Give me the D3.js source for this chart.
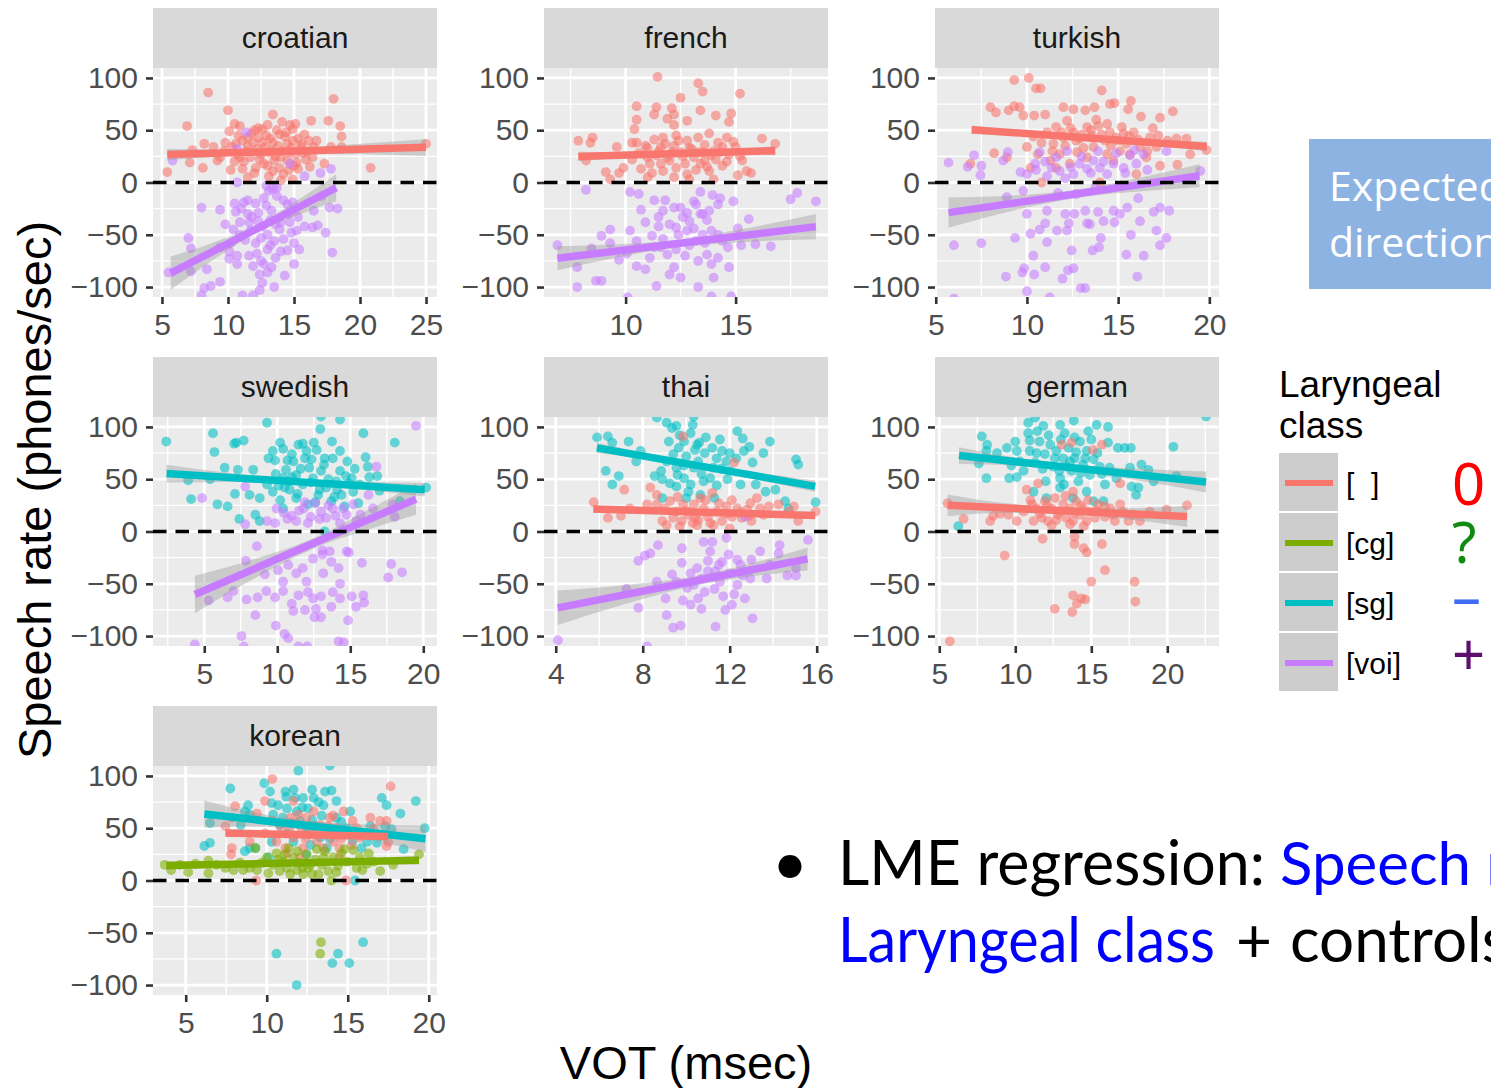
<!DOCTYPE html>
<html><head><meta charset="utf-8">
<script src="https://cdn.jsdelivr.net/npm/d3@7"></script>
<style>body{margin:0;background:#fff;overflow:hidden}svg{display:block}</style>
</head><body><svg id="c" width="1491" height="1088"></svg>
<script>
// ---------------- DATA ----------------
const languages = ["croatian","french","turkish","swedish","thai","german","korean"];
const classes = ["none","cg","sg","voi"];
const classLabels = ["[\u00a0\u00a0]","[cg]","[sg]","[voi]"];
const classColors = ["#F8766D","#7CAE00","#00BFC4","#C77CFF"];
const expectedSigns = ["0","?","\u2013","+"];
const expectedColors = ["#ff0000","#118a11","#3f6cf2","#5c0f6e"];
const xDomains = [[4.32,25.83],[6.29,19.2],[4.96,20.53],[1.49,20.94],[3.46,16.52],[4.72,23.4],[2.98,20.51]];
const xTicks = [[5,10,15,20,25],[10,15],[5,10,15,20],[5,10,15,20],[4,8,12,16],[5,10,15,20],[5,10,15,20]];
const xMinor = [[7.5,12.5,17.5,22.5],[7.5,12.5,17.5],[7.5,12.5,17.5],[2.5,7.5,12.5,17.5],[6,10,14],[7.5,12.5,17.5,22.5],[7.5,12.5,17.5]];
const yTicks = [-100,-50,0,50,100];
const yMinor = [-75,-25,25,75];
const yDomain = [-109.5,109.5];

const croatianNone = [[8.5,86],[18,80],[10,69],[13.4,65],[6.9,54],[10.5,56],[10.9,54],[8.2,37],[17.6,59],[18.5,54],[16.3,59],[18.6,44],[18.6,34],[17.8,34],[17.3,18],[20.8,14],[25,37],[5.4,10],[7.1,19],[7.3,31],[8.1,14],[8.9,34],[9.8,38],[10.1,49],[10.2,12],[10.6,37],[10.9,24],[11.5,43],[12,50],[12.3,43],[12.6,51],[12.8,34],[13.2,42],[13.7,50],[14,24],[14.4,48],[14.6,29],[14.9,40],[15.1,56],[15.5,34],[15.8,46],[16.1,40],[16.4,24],[16.5,34],[11.7,24],[12.1,14],[12.5,27],[13,16],[13.5,21],[13.9,14],[14.2,8],[14.9,3],[15.3,13],[15,16],[11.1,13],[9.4,24],[9.2,21],[11.4,30],[12.6,38],[13.4,38],[14.5,37],[15.3,42],[16,30],[11.5,35],[12.2,32],[13.1,29],[13.6,25],[14.1,30],[14.5,21],[15.1,27],[10.3,34],[10.7,27],[11.8,47],[13,55],[14.1,58],[14.9,51],[15.6,37],[13.4,11],[14,2],[10.8,45],[11.2,20],[11.9,38],[12.4,22],[12.9,45],[13.3,30],[13.8,35],[14.3,44],[14.8,33],[15.2,19],[15.7,28],[16.2,15],[12,9],[13.1,6],[11.5,5],[10.5,20],[9.7,30],[12.7,18],[14.6,12],[15.9,22],[16.7,40],[13.9,46],[11.1,40],[12.3,52],[14.7,55]];
const croatianVoi = [[5.8,21],[10.7,32],[11.4,48],[14.7,18],[15.8,6],[17,9],[17.8,13],[10.7,0],[8,-24],[9.4,-26],[10.5,-20],[10.6,-28],[11.2,-19],[11.5,-17],[11.5,-30],[12.1,-20],[12.3,-29],[12.7,-15],[12.9,-3],[13.1,-8],[13.4,-6],[13.7,-5],[13.7,-13],[14.2,-17],[14.5,-21],[14.9,-19],[15.3,-33],[16.5,-27],[17.1,-13],[17.7,-24],[18.3,-25],[10.9,-38],[11.6,-38],[12.3,-37],[13.2,-36],[14,-38],[14.7,-38],[15.8,-42],[16.4,-43],[16.8,-41],[17.4,-48],[10.4,-45],[10.9,-50],[11.7,-46],[12.5,-53],[13,-50],[13.5,-56],[14.2,-54],[15,-58],[15.4,-64],[7,-53],[7.2,-63],[9.4,-62],[10.1,-66],[10.7,-70],[11.6,-70],[12.2,-68],[13,-64],[13.6,-72],[14.5,-65],[17.9,-67],[8.4,-83],[10.1,-73],[10.7,-78],[12.7,-78],[13.3,-81],[15,-78],[7.2,-85],[5.5,-86],[8.2,-101],[8.7,-99],[9.4,-95],[12.4,-88],[12.6,-96],[13,-86],[13.5,-100],[14.3,-89],[12.4,-103],[11.1,-108],[8,-108],[11.9,-108],[11,-25],[11.8,-33],[12.6,-42],[13.3,-27],[13.9,-45],[14.6,-30],[12.1,-58],[13.2,-60],[14,-66],[11.3,-55],[10.2,-58],[12.9,-22],[13.6,-40],[15.2,-46],[11.9,-80],[12.5,-75],[9.8,-40],[14.8,-48]];

const frenchNone = [[11.45,101],[13.3,95],[13.5,87],[12.5,81],[15.2,85],[10.5,73],[11.4,72],[12.1,71],[13.4,69],[11.3,65],[11.9,61],[10.5,60],[12.2,65],[14.1,64],[14.8,66],[14.7,58],[12.2,55],[12.8,59],[10.4,51],[7.85,40],[8.4,38],[8.5,43],[9.6,34],[10.3,38],[10.5,38],[11,33],[11.3,41],[11.7,43],[12.3,45],[12.8,40],[13.3,43],[13.8,47],[14.2,38],[14.6,43],[15,34],[16.2,42],[16.8,37],[8.2,21],[9.1,10],[9.7,9],[9.9,14],[10.3,22],[10.7,13],[11.1,18],[11.4,26],[11.7,11],[12,21],[12.3,14],[12.5,29],[12.8,8],[13.1,24],[13.4,18],[13.5,29],[13.8,11],[14.1,22],[14.4,16],[14.7,27],[15.1,7],[15.5,11],[15.7,9],[15.3,21],[9.3,3],[11,5],[12.2,5],[14,3],[11.6,34],[12.1,29],[13,32],[13.3,29],[14,30],[14.4,34],[11.9,24],[12.7,18],[13.6,21],[10.6,28],[11,24],[11.5,30],[11.8,37],[12.2,35],[12.6,25],[12.9,33],[13.2,12],[13.6,36],[13.9,26],[14.3,29],[14.6,20],[15.2,25],[12.4,40],[11.2,9],[12.9,3],[13.7,15],[10.9,35],[11.6,18],[14.9,39]];
const frenchVoi = [[8.2,-7],[10.2,-9],[10.6,-11],[11.3,-17],[11.8,-17],[10.7,-26],[12.2,-24],[13.2,-21],[13.4,-9],[13.95,-12],[14.3,-15],[14.9,-18],[17.5,-16],[17.8,-10],[18.65,-18],[12.8,-29],[13.4,-30],[13.8,-27],[14.2,-21],[15.6,-35],[6.9,-60],[7.8,-81],[7.8,-100],[8.65,-94],[8.9,-94],[8.45,-63],[8.9,-51],[9.3,-58],[9.3,-45],[9.7,-74],[10.05,-68],[10.5,-80],[10.9,-83],[10.9,-38],[11.2,-51],[11.5,-33],[11.5,-42],[11.7,-54],[11.9,-69],[12,-88],[12.2,-81],[12.3,-64],[12.5,-91],[12.8,-46],[12.9,-37],[13.2,-56],[13.3,-75],[13.3,-100],[13.5,-50],[13.7,-69],[13.9,-46],[14,-91],[14.2,-72],[14.4,-56],[14.7,-81],[14.8,-109],[13.9,-109],[14.65,-62],[15.25,-60],[15.9,-59],[16.6,-61],[11.4,-99],[11.7,-27],[12.6,-33],[12.3,-43],[11.3,-62],[10.5,-56],[15.1,-44],[13.5,-30],[13.1,-18],[10.1,-110],[12.4,-50],[12.9,-60],[13.6,-58],[12,-40],[13.1,-44],[11.6,-62],[13.9,-78],[12.7,-70],[11.1,-72],[14.2,-50],[10.2,-46],[12.5,-24],[13.7,-36]];

const turkishNone = [[9.3,98],[10.1,100],[10.5,90],[10.75,90],[14.1,88],[8,72],[8.3,67],[9,69],[9.3,73],[9.6,72],[9.8,64],[10.4,64],[11,65],[12,72],[12.55,70],[13.2,69],[13.7,72],[14.55,75],[14.8,76],[15.7,78],[15.55,70],[16.25,63],[17.3,62],[18,68],[6.9,18],[8.2,28],[8.9,24],[10,34],[10.35,44],[10.6,27],[11.1,48],[11.45,37],[11.6,53],[12,43],[12.2,59],[12.55,48],[12.9,42],[13.3,53],[13.55,45],[13.9,54],[14.3,40],[14.55,48],[14.9,43],[15.2,53],[15.45,37],[15.85,48],[16.2,34],[16.75,43],[17.1,34],[17.7,40],[18.2,42],[18.75,42],[18.95,27],[19.85,31],[18.25,17],[17.3,16],[16,8],[14,0],[10.8,0],[11.3,21],[11.8,27],[12.35,18],[12.75,29],[13.3,24],[13.65,34],[14.4,27],[14.75,21],[15.1,30],[15.65,27],[16.55,24],[10.2,14],[11.6,14],[10.8,38],[11.4,30],[12.1,35],[12.7,40],[13.1,33],[13.5,50],[14.1,46],[14.6,35],[15,40],[15.6,44],[16.1,41],[16.6,30],[12.4,52],[13.8,60],[14.4,56],[11.9,48],[13,46],[15.3,47],[17.2,45],[16.9,52]];
const turkishVoi = [[5.7,19],[6.75,15],[7.1,26],[7.5,16],[7.45,7],[8.7,21],[8.95,29],[9.65,10],[10,8],[10.45,18],[10.7,29],[11.1,6],[11.35,14],[11.8,11],[12.2,30],[12.55,8],[12.9,18],[13.3,13],[13.65,21],[14,14],[14.4,8],[14.75,18],[15.3,14],[15.65,26],[16,18],[16.4,27],[17.65,30],[19.5,11],[8.9,-14],[9.8,-8],[10,-30],[11.1,-27],[11.7,-10],[12.1,-30],[12.6,-30],[12.7,-11],[13.2,-27],[13.75,-5],[13.9,-28],[14.2,-37],[14.75,-27],[14.8,-38],[15.1,-30],[15.5,-24],[16.1,-15],[16.2,-37],[16.95,-28],[17.3,-24],[17.8,-27],[6,-60],[7.5,-58],[9.35,-53],[10.2,-49],[10.7,-45],[11,-39],[11.1,-57],[11.65,-46],[12.2,-46],[12.3,-39],[12.45,-65],[13.3,-39],[13.45,-40],[13.6,-65],[13.95,-62],[14.05,-53],[15.7,-50],[15.45,-69],[16.4,-70],[17.1,-46],[17.3,-60],[17.65,-53],[10.35,-70],[10.4,-88],[11,-81],[9.75,-86],[9.85,-82],[8.85,-90],[11.95,-92],[12.25,-84],[12.55,-82],[12.95,-101],[13.2,-101],[16.05,-90],[10,-104],[11.25,-110],[6,-111],[11,20],[11.6,24],[12.4,15],[13,25],[13.5,9],[14.2,20],[14.9,28],[15.4,9],[16.6,12],[12.1,4],[13.9,30],[15.9,31],[10.5,12]];

const swedishSg = [[2.4,86],[5.6,94],[5.7,76],[5.9,26],[4.1,31],[3.9,49],[5.4,50],[6.4,61],[6.6,24],[7.05,84],[7.2,85],[7.7,87],[7.3,59],[7.1,36],[7.4,12],[8.1,35],[8.5,16],[8.8,10],[8.35,59],[9.3,104],[9.4,70],[9.7,77],[9.85,68],[10.2,85],[10.4,79],[10.6,59],[10.75,48],[11,74],[11.1,67],[11.45,83],[11.75,84],[12,77],[12.35,69],[12.5,85],[12.7,78],[12.95,98],[13,110],[13.25,70],[13.75,86],[13.8,70],[14.3,107],[14.3,77],[14.8,67],[15.1,51],[15.9,94],[16.05,71],[16.2,62],[16.3,52],[16.85,53],[17,39],[18.05,85],[18.4,29],[20.2,42],[8.8,32],[9.3,45],[9.7,38],[10.2,30],[10.4,22],[10.85,40],[11.3,32],[11.75,45],[12.1,26],[12.45,51],[12.8,35],[13,58],[13.35,42],[13.7,29],[14.05,48],[14.4,35],[14.6,24],[15.2,38],[15.55,27],[15.65,45],[13.25,0],[11.3,54],[12.2,61],[14.3,58],[10.4,51],[9.9,55],[10.5,42],[11,52],[11.6,60],[12.3,47],[12.9,40],[13.5,50],[14.1,40],[14.7,53],[10.7,68],[11.9,70],[13.2,64],[15.3,60],[10.1,44],[12.6,28],[13.9,33],[14.9,46],[11.4,36]];
const swedishVoi = [[19.5,101],[16.8,62],[16.25,35],[17.9,26],[18.05,14],[4.85,32],[7.8,43],[7.8,7],[9.3,10],[9.85,8],[9.95,22],[10.45,18],[11,15],[11.3,10],[11.8,22],[12.3,14],[12.6,27],[13,19],[13.35,13],[13.8,22],[14.3,8],[14.75,16],[15.2,26],[15.7,16],[16.55,22],[8.6,-14],[7.85,-28],[9.15,-41],[10.05,-37],[10.4,-48],[10.75,-32],[11.3,-40],[11.75,-35],[12,-48],[12.45,-26],[13.1,-18],[13.1,-22],[13.15,-40],[13.7,-29],[13.6,-19],[14.2,-35],[14.75,-19],[14.9,-20],[15.8,-30],[17.8,-31],[17.6,-44],[18.55,-39],[5.3,-66],[6.6,-63],[7,-57],[7.9,-65],[8.5,-80],[8.65,-63],[9.25,-57],[9.85,-63],[10.4,-57],[11,-69],[11.1,-76],[11.45,-61],[11.9,-75],[12.1,-58],[12.45,-64],[12.55,-82],[12.65,-74],[13,-62],[13,-82],[13.7,-72],[13.8,-58],[14.3,-64],[14.85,-85],[15.1,-62],[15.4,-72],[15.9,-61],[15.95,-68],[14.3,-50],[9.9,-90],[10.5,-98],[10.75,-102],[7.55,-100],[4.35,-108],[7.7,-110],[11.45,-110],[12.05,-110],[14.2,-105],[14.55,-106],[10.7,12],[11.5,20],[12.1,8],[12.9,12],[13.5,25],[14,15],[14.5,22],[15.4,10],[11.9,28]];

const thaiSg = [[5.9,90],[6.4,91],[6.6,85],[7.35,86],[7.9,77],[7.7,67],[6.9,53],[6.6,45],[6.3,58],[8.65,109],[9.1,104],[9.35,99],[9.55,101],[10.2,94],[10.3,102],[10.35,110],[9.9,86],[9.65,80],[9.4,74],[9.1,67],[8.85,58],[8.55,53],[8.9,50],[9.25,46],[9.55,43],[9.9,51],[10.1,38],[10.35,61],[10.55,67],[10.6,85],[10.85,75],[11.1,51],[11.3,32],[11.55,88],[11.65,77],[11.85,67],[12,58],[12.35,96],[12.5,45],[12.6,89],[12.65,77],[12.9,81],[13.05,66],[13.2,45],[13.55,75],[13.85,86],[13.65,38],[14.1,40],[14.55,29],[15.05,69],[15.15,64],[15.95,28],[14.7,22],[8.9,32],[10,32],[10.65,35],[11.25,61],[11.4,70],[12,75],[10.8,48],[9.55,61],[10.5,83],[9.2,86],[9.7,92],[10,72],[10.4,78],[10.9,90],[11.2,80],[11.6,60],[10.7,55],[9.9,63],[11.9,50],[12.3,70],[10.2,45],[9.6,54],[11.4,44]];
const thaiNone = [[5.75,28],[6.4,13],[7,15],[7.15,40],[7.4,22],[8.2,26],[8.35,42],[8.65,35],[8.9,10],[9,22],[9.25,29],[9.4,13],[9.55,19],[9.8,10],[9.85,26],[10.1,16],[10.35,26],[10.55,11],[10.8,22],[11,14],[11.2,37],[11.4,19],[11.65,10],[11.85,24],[12.1,14],[12.2,66],[12.35,22],[12.55,13],[12.8,21],[13,10],[12.95,27],[13.25,32],[13.55,16],[13.8,24],[14.25,26],[14.7,19],[14.95,24],[15.15,10],[15.95,19],[9.85,91],[8.65,26],[9.1,6],[9.7,5],[10.5,6],[11.25,6],[12,3],[10.65,32],[9.6,33],[10,20],[10.4,13],[10.9,30],[11.5,27],[12.1,30],[12.5,18],[12.9,15],[13.4,22],[11.1,8],[11.9,17],[10.3,8]];
const thaiVoi = [[4.1,-104],[8.2,-110],[7.8,-28],[8.1,-23],[8.35,-21],[8.7,-13],[7.25,-55],[7.8,-73],[8.65,-48],[9.1,-80],[9.4,-92],[9.75,-90],[9.05,-64],[9.35,-41],[9.55,-48],[9.8,-30],[9.85,-66],[10.2,-70],[10.35,-51],[10.5,-35],[10.55,-64],[10.7,-74],[10.8,-10],[10.85,-58],[11.1,-19],[11.2,-10],[11.35,-38],[11.35,-91],[11.55,-48],[11.65,-29],[11.7,-62],[11.85,-6],[11.95,-22],[12,-40],[12.1,-70],[12.35,-51],[12.5,-32],[12.7,-64],[12.95,-45],[13.05,-83],[13.4,-19],[13.7,-45],[13.85,-32],[14.25,-21],[14.3,-13],[14.65,-42],[15.05,-35],[15.05,-42],[15.6,-8],[9.8,-16],[11,-38],[11.5,-32],[10.05,-54],[12.35,-27],[13,-27],[12.7,14],[10.7,-45],[11.3,-55],[12.2,-60],[11,-28],[12.6,-42],[10.2,-40],[11.8,-75]];

const germanSg = [[22.55,110],[20.4,81],[11.3,109],[10.85,104],[10.85,94],[11.85,101],[10.95,87],[11.45,96],[12.95,102],[13.25,94],[13.85,106],[14.8,96],[15.35,102],[16.1,100],[7.8,91],[8.15,83],[8.1,77],[8.1,51],[7.6,65],[8.8,75],[9.45,80],[10,86],[10.1,77],[9.75,63],[9.6,51],[10.1,52],[10.3,67],[10.55,58],[10.95,77],[11.3,66],[11.6,86],[11.95,74],[12.3,83],[12.5,62],[12.7,77],[12.95,51],[13.15,70],[13.5,80],[13.7,58],[13.9,70],[14.15,48],[14.25,86],[14.45,64],[14.7,77],[14.9,54],[15.15,69],[15.55,62],[15.9,45],[16.1,85],[16.2,61],[16.65,51],[16.75,80],[17.2,80],[17.6,80],[17.55,61],[17.65,43],[17.95,35],[18.1,42],[18.3,64],[18.75,59],[19.1,48],[20.6,53],[6.25,5],[11.2,38],[12.05,32],[12.95,42],[13.8,32],[14.7,38],[15.8,29],[15.15,29],[13.6,67],[11.4,75],[11.8,60],[12.2,92],[12.6,70],[13,88],[13.4,62],[13.9,90],[14.3,56],[14.6,70],[15,88],[15.4,75],[12,48],[13.2,45],[15.7,55],[14,76],[12.9,58]];
const germanNone = [[5.55,27],[6.6,12],[8.35,10],[8.55,15],[9,17],[9.55,16],[10.1,10],[10.55,19],[10.75,40],[11,30],[11.2,10],[11.4,22],[11.5,46],[11.75,13],[11.95,29],[12.15,10],[12.4,22],[12.6,32],[12.7,11],[12.95,19],[13.05,83],[13.15,26],[13.35,13],[13.6,22],[13.7,85],[13.8,10],[14,29],[14.25,16],[14.45,22],[14.7,10],[14.9,19],[15.1,78],[15.25,13],[15.45,26],[15.7,83],[15.9,14],[16.25,22],[16.55,10],[16.9,26],[17.1,19],[17.45,10],[17.75,16],[18.2,10],[18.85,19],[19.95,21],[21.3,25],[16.9,46],[13.8,38],[11.8,-7],[13.9,-5],[13.9,-12],[14.5,-16],[14.7,-20],[15.7,-12],[9.3,-23],[15.9,-37],[15,-48],[17.85,-48],[13.8,-61],[14.05,-69],[14.35,-64],[14.6,-65],[12.6,-74],[13.75,-77],[17.9,-67],[5.7,-105],[11.6,17],[12.1,25],[12.8,16],[13.3,34],[13.9,18],[14.3,25],[14.8,30],[15.3,20],[15.9,24],[12.4,6],[13.6,7],[14.5,5],[16.4,16],[11.1,26]];

const koreanSg = [[11.95,105],[13.9,110],[9.85,93],[7.75,88],[10.2,85],[11.15,85],[11.65,87],[11.2,80],[11.75,79],[12.25,79],[12.8,87],[12.9,79],[13.6,85],[14,86],[10.3,74],[10.7,72],[11.25,69],[11.85,66],[12.55,69],[13.5,72],[14.3,76],[8.85,72],[8.65,66],[8.95,63],[8.4,53],[6.5,55],[6.15,33],[6.5,36],[8.65,28],[8.95,31],[9.3,31],[10.4,63],[10.8,53],[11.3,45],[11.65,37],[12.05,57],[12.35,44],[12.7,34],[13,52],[13.3,41],[13.7,31],[14,49],[14.3,60],[14.6,44],[14.95,50],[15.15,66],[15.35,47],[15.85,31],[16.2,37],[16.6,44],[16.8,36],[17.1,79],[17.4,72],[17.3,52],[17.7,49],[18.25,64],[18.45,30],[19.2,76],[19.75,50],[15.45,0],[10.6,-70],[14.05,-79],[14.4,-70],[15.1,-79],[15.95,-59],[11.85,-100],[10.1,22],[12.45,25],[10.3,37],[11.5,55],[12.2,70],[12.8,58],[13.4,62],[13.9,40],[14.6,56],[15.3,38],[16.4,52],[11,60],[12.6,48],[13.2,75]];
const koreanNone = [[10.35,97],[17.65,90],[9.9,76],[8.05,71],[9.4,64],[7.85,60],[7.45,52],[7.85,31],[7.8,25],[8.95,37],[9.9,45],[10.3,57],[10.6,37],[10.9,50],[11.15,31],[11.45,60],[11.65,41],[11.95,63],[12.15,50],[12.25,31],[12.45,60],[12.65,44],[12.9,66],[13.1,37],[13.3,53],[13.5,31],[13.7,44],[13.9,60],[14.1,37],[14.3,50],[14.5,31],[14.75,66],[14.95,44],[15.25,34],[15.55,50],[15.75,41],[16.4,60],[16.6,50],[17,57],[17.4,57],[17.5,37],[17.4,33],[11.25,26],[12.05,22],[9.35,0],[14.9,0],[14.5,22],[11.65,76],[11.8,55],[12.4,40],[13.2,45],[13.8,52],[14.6,40],[15.3,57],[16,45],[12.8,52],[11.4,48],[14.1,62]];
const koreanCg = [[3.7,15],[4.1,10],[4.65,15],[5.15,8],[5.6,16],[6.4,19],[6.4,7],[6.9,15],[7.45,12],[7.95,10],[8.35,17],[8.55,10],[8.95,12],[9.3,31],[9.4,10],[9.7,17],[10,22],[10.1,7],[10.4,15],[10.6,26],[10.8,9],[11,18],[11.25,12],[11.35,31],[11.45,6],[11.65,22],[11.85,10],[12.05,17],[12.25,6],[12.45,25],[12.55,12],[12.8,6],[13,20],[13.2,6],[13.4,15],[13.6,28],[13.8,9],[14,0],[14.1,22],[14.4,14],[14.6,26],[14.95,18],[15.35,29],[15.55,12],[15.75,22],[16.2,16],[16.3,26],[16.6,18],[17,9],[17.8,15],[19.4,25],[13.35,-59],[13.3,-70],[11.1,25],[11.9,28],[12.7,15],[13.5,22],[14.3,8],[14.8,30],[15.9,10],[12.2,12],[10.7,20],[13.1,30]];

// [language, class, points]
const pointSets = [
  ["croatian","none",croatianNone],["croatian","voi",croatianVoi],
  ["french","none",frenchNone],["french","voi",frenchVoi],
  ["turkish","none",turkishNone],["turkish","voi",turkishVoi],
  ["swedish","sg",swedishSg],["swedish","voi",swedishVoi],
  ["thai","sg",thaiSg],["thai","none",thaiNone],["thai","voi",thaiVoi],
  ["german","sg",germanSg],["german","none",germanNone],
  ["korean","sg",koreanSg],["korean","none",koreanNone],["korean","cg",koreanCg]
];
// fitted lines: [language, class, x0, y0, x1, y1]
const fitLines = [
  ["croatian","none",5.4,26.7,25,33.6],["croatian","voi",5.66,-86.7,18.2,-5],
  ["french","none",7.85,24.9,16.8,30.4],["french","voi",6.9,-72.5,18.65,-42.2],
  ["turkish","none",6.97,50.5,19.86,34.5],["turkish","voi",5.7,-28.8,19.46,6.4],
  ["swedish","sg",2.42,55.4,20.1,40],["swedish","voi",4.36,-60.2,19.5,31],
  ["thai","sg",5.89,80,15.93,43.2],["thai","none",5.73,21.4,15.93,15.4],["thai","voi",4.09,-73,15.58,-26.2],
  ["german","sg",6.3,72.6,22.55,47.4],["german","none",5.55,25,21.3,14.4],
  ["korean","sg",6.15,63.5,19.8,40],["korean","none",7.45,45.4,17.5,42],["korean","cg",3.8,14.3,19.4,19.4]
];
// confidence band half-widths [x, halfwidth], same order as fitLines
const fitBands = [
  [[5.4,5.5],[9,3.5],[13,2.5],[19,4.5],[25,8]],
  [[5.66,16],[8.5,9],[12.5,4],[15.5,7.5],[18.2,13]],
  [[7.85,4.5],[10,2.5],[12.5,1.8],[14.8,2.5],[16.8,4.5]],
  [[6.9,11.5],[9.5,6.5],[12.5,3.5],[15.5,6.5],[18.65,12]],
  [[6.97,4],[10,2.5],[13.5,1.8],[16.5,2.5],[19.86,4.5]],
  [[5.7,14.5],[8.5,8.5],[13,4],[16.5,7],[19.46,11]],
  [[2.42,8.5],[6.5,4.5],[11.5,2.5],[16,4],[20.1,6.5]],
  [[4.36,18],[8,10],[12.5,5],[16,9],[19.5,15]],
  [[5.89,5],[8,3],[10.5,2.5],[13.5,3.5],[15.93,5.5]],
  [[5.73,3.5],[8.5,2],[10.8,1.6],[13.5,2],[15.93,3.5]],
  [[4.09,16.5],[7,9.5],[10.5,4.5],[13.5,7],[15.58,11]],
  [[6.3,8],[10,4],[13.5,3],[18,5.5],[22.55,10]],
  [[5.55,10.5],[9,5],[13,3],[17,5],[21.3,10]],
  [[6.15,13],[9,7],[12.5,4.5],[16,7],[19.8,12.5]],
  [[7.45,4],[10,2.5],[12.5,2.5],[15,2.5],[17.5,4]],
  [[3.8,4],[7.5,2.5],[11.5,1.8],[15.5,2.5],[19.4,4]]
];

// ---------------- DRAW ----------------
const svg = d3.select("#c");
const FONT = "'Liberation Sans', Arial, Helvetica, sans-serif";
const colX = [153,544,935], rowY = [68,417,766], pw = 284, ph = 229, stripH = 60;
const color = d3.scaleOrdinal().domain(classes).range(classColors);
const y = d3.scaleLinear().domain(yDomain).range([ph,0]);
const minusFmt = d => d < 0 ? "\u2212" + Math.abs(d) : String(d);

languages.forEach((lang, i) => {
  const gx = colX[i % 3], gy = rowY[Math.floor(i / 3)];
  const g = svg.append("g").attr("transform", `translate(${gx},${gy})`);
  const x = d3.scaleLinear().domain(xDomains[i]).range([0, pw]);

  g.append("rect").attr("x",0).attr("y",-stripH).attr("width",pw).attr("height",stripH).attr("fill","#d9d9d9");
  g.append("text").attr("x",pw/2).attr("y",-20).attr("text-anchor","middle")
    .attr("font-family",FONT).attr("font-size",30).attr("fill","#1a1a1a").text(lang);

  g.append("rect").attr("width",pw).attr("height",ph).attr("fill","#ebebeb");
  g.append("clipPath").attr("id","clip"+i).append("rect").attr("width",pw).attr("height",ph);
  const inner = g.append("g").attr("clip-path",`url(#clip${i})`);

  xMinor[i].forEach(v => inner.append("line").attr("x1",x(v)).attr("x2",x(v)).attr("y1",0).attr("y2",ph).attr("stroke","#fff").attr("stroke-width",1.4));
  yMinor.forEach(v => inner.append("line").attr("y1",y(v)).attr("y2",y(v)).attr("x1",0).attr("x2",pw).attr("stroke","#fff").attr("stroke-width",1.4));
  xTicks[i].forEach(v => inner.append("line").attr("x1",x(v)).attr("x2",x(v)).attr("y1",0).attr("y2",ph).attr("stroke","#fff").attr("stroke-width",2.8));
  yTicks.forEach(v => inner.append("line").attr("y1",y(v)).attr("y2",y(v)).attr("x1",0).attr("x2",pw).attr("stroke","#fff").attr("stroke-width",2.8));

  pointSets.filter(s => s[0] === lang).forEach(s => {
    inner.append("g").selectAll("circle").data(s[2]).join("circle")
      .attr("cx", d => x(d[0])).attr("cy", d => y(d[1])).attr("r", 4.9)
      .attr("fill", color(s[1])).attr("fill-opacity", 0.58);
  });

  fitLines.forEach((f, k) => {
    if (f[0] !== lang) return;
    const ly = d3.scaleLinear().domain([f[2], f[4]]).range([f[3], f[5]]);
    const area = d3.area().x(d => x(d[0])).y0(d => y(ly(d[0]) - d[1])).y1(d => y(ly(d[0]) + d[1])).curve(d3.curveMonotoneX);
    inner.append("path").attr("d", area(fitBands[k])).attr("fill","#999").attr("fill-opacity",0.4);
  });
  fitLines.forEach(f => {
    if (f[0] !== lang) return;
    inner.append("line").attr("x1",x(f[2])).attr("y1",y(f[3])).attr("x2",x(f[4])).attr("y2",y(f[5]))
      .attr("stroke", color(f[1])).attr("stroke-width", 7.5);
  });

  inner.append("line").attr("x1",0).attr("x2",pw).attr("y1",y(0)).attr("y2",y(0))
    .attr("stroke","#000").attr("stroke-width",3.5).attr("stroke-dasharray","13.5,9");

  const ya = g.append("g").call(d3.axisLeft(y).tickValues(yTicks).tickSize(7).tickPadding(8).tickFormat(minusFmt));
  const xa = g.append("g").attr("transform",`translate(0,${ph})`).call(d3.axisBottom(x).tickValues(xTicks[i]).tickSize(7).tickPadding(10).tickFormat(d3.format("d")));
  [ya, xa].forEach(a => {
    a.select(".domain").remove();
    a.selectAll(".tick line").attr("stroke","#333").attr("stroke-width",2.6);
    a.selectAll(".tick text").attr("font-family",FONT).attr("font-size",30).attr("fill","#4d4d4d");
  });
});

svg.append("text").attr("transform","translate(51,490) rotate(-90)").attr("text-anchor","middle")
  .attr("font-family",FONT).attr("font-size",47).attr("fill","#000").text("Speech rate (phones/sec)");
svg.append("text").attr("x",686).attr("y",1079).attr("text-anchor","middle")
  .attr("font-family",FONT).attr("font-size",47).attr("fill","#000").text("VOT (msec)");

const lg = svg.append("g");
lg.append("text").attr("x",1279).attr("y",397).attr("font-family",FONT).attr("font-size",37).text("Laryngeal");
lg.append("text").attr("x",1279).attr("y",438).attr("font-family",FONT).attr("font-size",37).text("class");
classes.forEach((c, k) => {
  const ky = 453 + k * 60;
  lg.append("rect").attr("x",1279).attr("y",ky).attr("width",59).attr("height",58).attr("fill","#cdcdcd");
  lg.append("line").attr("x1",1285).attr("x2",1333).attr("y1",ky+30).attr("y2",ky+30).attr("stroke",color(c)).attr("stroke-width",6);
  lg.append("text").attr("x",1346).attr("y",ky+41).attr("font-family",FONT).attr("font-size",30).attr("fill","#000").text(classLabels[k]);
  lg.append("text").attr("x",1452).attr("y",[505,563,617,676][k]).attr("font-family","'Noto Sans', sans-serif")
    .attr("font-size",[58,56,58,58][k]).attr("fill",expectedColors[k]).text(expectedSigns[k]);
});

svg.append("rect").attr("x",1309).attr("y",139).attr("width",200).attr("height",150).attr("fill","#8db3e2");
svg.append("text").attr("x",1329).attr("y",201).attr("font-family","'Open Sans', sans-serif").attr("font-size",41).attr("fill","#fff").text("Expected");
svg.append("text").attr("x",1329).attr("y",257).attr("font-family","'Open Sans', sans-serif").attr("font-size",41).attr("fill","#fff").text("direction");

const BF = "Lato, 'Open Sans', sans-serif";
svg.append("text").attr("x",790).attr("y",885).attr("text-anchor","middle").attr("font-family",BF).attr("font-size",62).text("\u2022");
svg.append("text").attr("x",838).attr("y",885).attr("font-family",BF).attr("font-size",62).attr("fill","#000")
  .attr("textLength",427).attr("lengthAdjust","spacingAndGlyphs").text("LME regression:");
svg.append("text").attr("x",1280).attr("y",885).attr("font-family",BF).attr("font-size",60).attr("fill","#0000ff").text("Speech rate");
svg.append("text").attr("x",838).attr("y",962).attr("font-family",BF).attr("font-size",62).attr("fill","#0000ff")
  .attr("textLength",377).attr("lengthAdjust","spacingAndGlyphs").text("Laryngeal class");
svg.append("text").attr("x",1236).attr("y",962).attr("font-family",BF).attr("font-size",62).attr("fill","#000").text("+");
svg.append("text").attr("x",1290).attr("y",962).attr("font-family",BF).attr("font-size",62).attr("fill","#000").text("controls");
</script></body></html>
